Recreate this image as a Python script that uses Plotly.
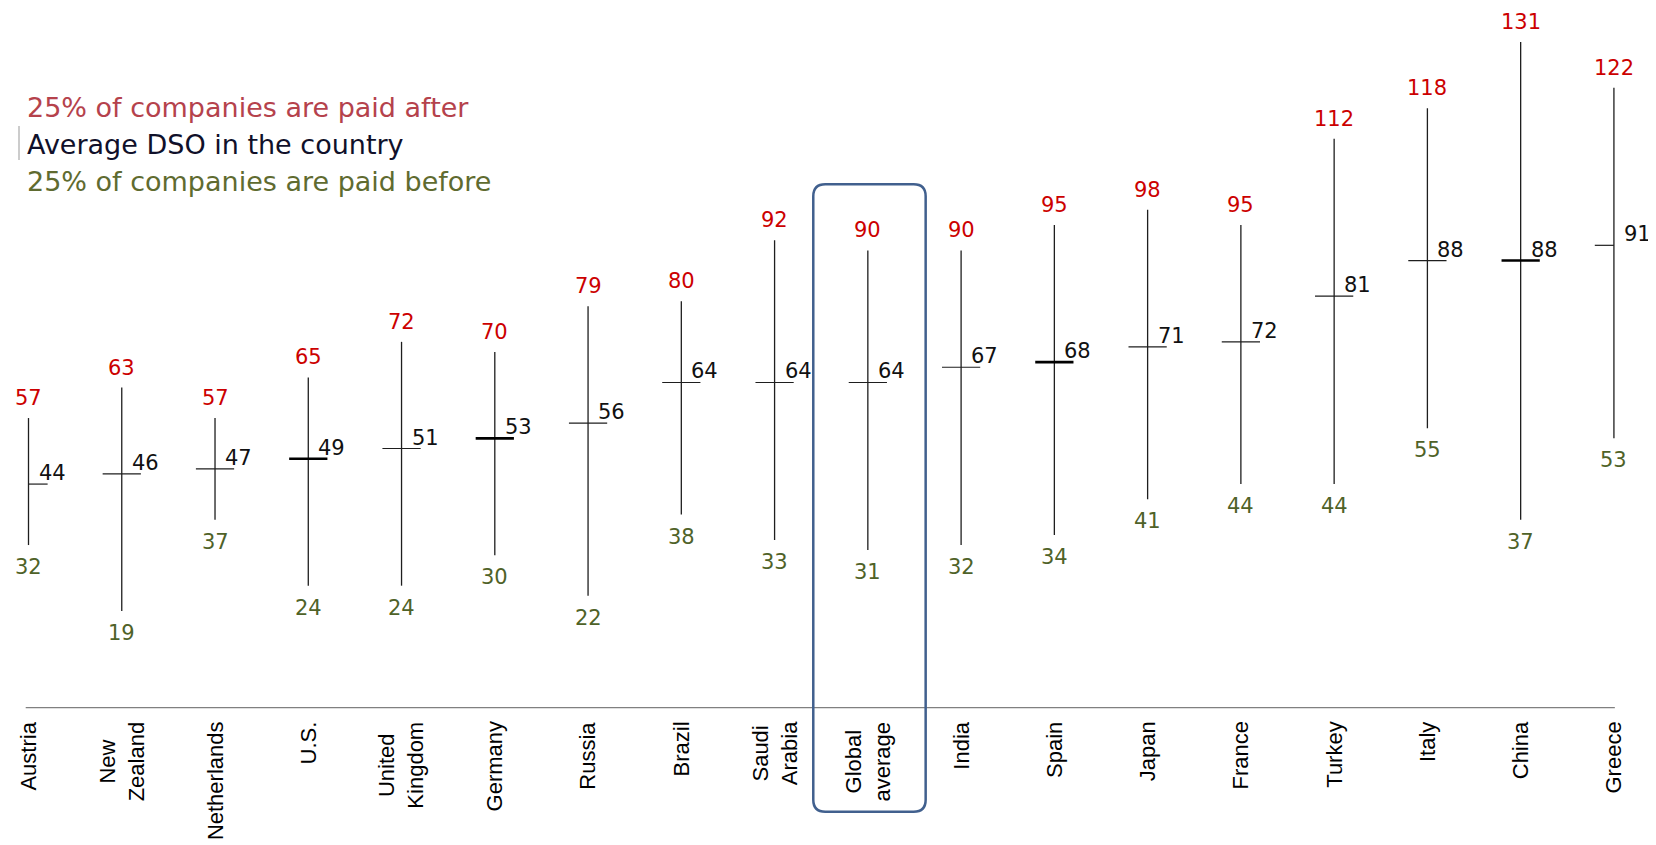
import plotly.graph_objects as go

categories = ["Austria", "New<br>Zealand", "Netherlands", "U.S.", "United<br>Kingdom", "Germany",
              "Russia", "Brazil", "Saudi<br>Arabia", "Global<br>average", "India", "Spain",
              "Japan", "France", "Turkey", "Italy", "China", "Greece"]
high_values = [57, 63, 57, 65, 72, 70, 79, 80, 92, 90, 90, 95, 98, 95, 112, 118, 131, 122]
avg_values = [44, 46, 47, 49, 51, 53, 56, 64, 64, 64, 67, 68, 71, 72, 81, 88, 88, 91]
low_values = [32, 19, 37, 24, 24, 30, 22, 38, 33, 31, 32, 34, 41, 44, 44, 55, 37, 53]
legend_lines = ["25% of companies are paid after", "Average DSO in the country",
                "25% of companies are paid before"]
bold_avg = {"U.S.", "Germany", "Spain", "China"}
tick_side = {"Austria": "right", "Greece": "left"}
highlight = "Global<br>average"

# page body has an 8px margin: figure drawn in the remaining area
OFF = 8
W, H = 1656 - OFF, 845 - OFF
x0_px, dx_px = 28.5 - OFF, 93.26
y0_px, dy_px = 707.6 - OFF, 5.08
xr = [-x0_px / dx_px, (W - x0_px) / dx_px]
yr = [-(H - y0_px) / dy_px, y0_px / dy_px]

RED = "#CC0000"
GREEN = "#4F6228"
LINE = "#1E1E1E"
FONT_VAL = "DejaVu Sans"

fig = go.Figure()
idx = list(range(len(categories)))

# vertical ranges
vx, vy = [], []
for i, lo, hi in zip(idx, low_values, high_values):
    vx += [i, i, None]
    vy += [lo, hi, None]
fig.add_trace(go.Scatter(x=vx, y=vy, mode="lines", line=dict(color=LINE, width=1.3),
                         hoverinfo="skip", showlegend=False))

# average ticks
hw = 0.205
for bold in (False, True):
    tx, ty = [], []
    for i, c, a in zip(idx, categories, avg_values):
        name = c.replace("<br>", " ")
        if (name in bold_avg) != bold:
            continue
        side = tick_side.get(name, "both")
        left = i if side == "right" else i - hw
        right = i if side == "left" else i + hw
        tx += [left, right, None]
        ty += [a, a, None]
    fig.add_trace(go.Scatter(x=tx, y=ty, mode="lines",
                             line=dict(color="#000000" if bold else LINE, width=2.6 if bold else 1.2),
                             hoverinfo="skip", showlegend=False))

ann = []
for i, c, lo, a, hi in zip(idx, categories, low_values, avg_values, high_values):
    ann.append(dict(x=i, y=hi, text=str(hi), showarrow=False, yshift=20, yanchor="middle",
                    font=dict(family=FONT_VAL, size=21, color=RED)))
    ann.append(dict(x=i, y=lo, text=str(lo), showarrow=False, yshift=-22, yanchor="middle",
                    font=dict(family=FONT_VAL, size=21, color=GREEN)))
    ann.append(dict(x=i, y=a, text=str(a), showarrow=False, xshift=8, yshift=11,
                    xanchor="left", yanchor="middle",
                    font=dict(family=FONT_VAL, size=21, color="#111111")))
    ann.append(dict(x=i, y=0, text=c, showarrow=False, textangle=-90, yshift=-12,
                    xanchor="center", yanchor="top", align="center",
                    font=dict(family="Liberation Sans", size=22, color="#000000")))

legend_colors = ["#B5424C", "#10102A", "#5F6B30"]
legend_y_px = [107, 144, 181]
for t, col, ypx in zip(legend_lines, legend_colors, legend_y_px):
    ann.append(dict(xref="paper", yref="paper", x=(25 - OFF) / W, y=1 - (ypx - OFF) / H, text=t,
                    showarrow=False, xanchor="left", yanchor="middle",
                    font=dict(family=FONT_VAL, size=27, color=col)))

shapes = []
# baseline
shapes.append(dict(type="line", xref="x", yref="y", x0=-0.03, x1=len(categories) - 1 + 0.01,
                   y0=0, y1=0, line=dict(color="#808080", width=1.3)))
# small grey mark by legend
shapes.append(dict(type="line", xref="paper", yref="paper", x0=(19 - OFF) / W, x1=(19 - OFF) / W,
                   y0=1 - (126 - OFF) / H, y1=1 - (160 - OFF) / H,
                   line=dict(color="#CCCCCC", width=2)))
# highlight box around global average
hi_i = categories.index(highlight)
bx0, bx1 = hi_i - 0.585, hi_i + 0.62
by0, by1 = -20.5, 103.0
rx, ry = 12 / dx_px, 12 / dy_px
path = (f"M {bx0 + rx} {by1} L {bx1 - rx} {by1} Q {bx1} {by1} {bx1} {by1 - ry} "
        f"L {bx1} {by0 + ry} Q {bx1} {by0} {bx1 - rx} {by0} L {bx0 + rx} {by0} "
        f"Q {bx0} {by0} {bx0} {by0 + ry} L {bx0} {by1 - ry} Q {bx0} {by1} {bx0 + rx} {by1} Z")
shapes.append(dict(type="path", xref="x", yref="y", path=path,
                   line=dict(color="#41608E", width=2.5)))

fig.update_layout(
    width=W, height=H, margin=dict(l=0, r=0, t=0, b=0),
    paper_bgcolor="white", plot_bgcolor="white",
    xaxis=dict(range=xr, visible=False, fixedrange=True),
    yaxis=dict(range=yr, visible=False, fixedrange=True),
    annotations=ann, shapes=shapes, showlegend=False,
)
fig.write_html("out.html")
